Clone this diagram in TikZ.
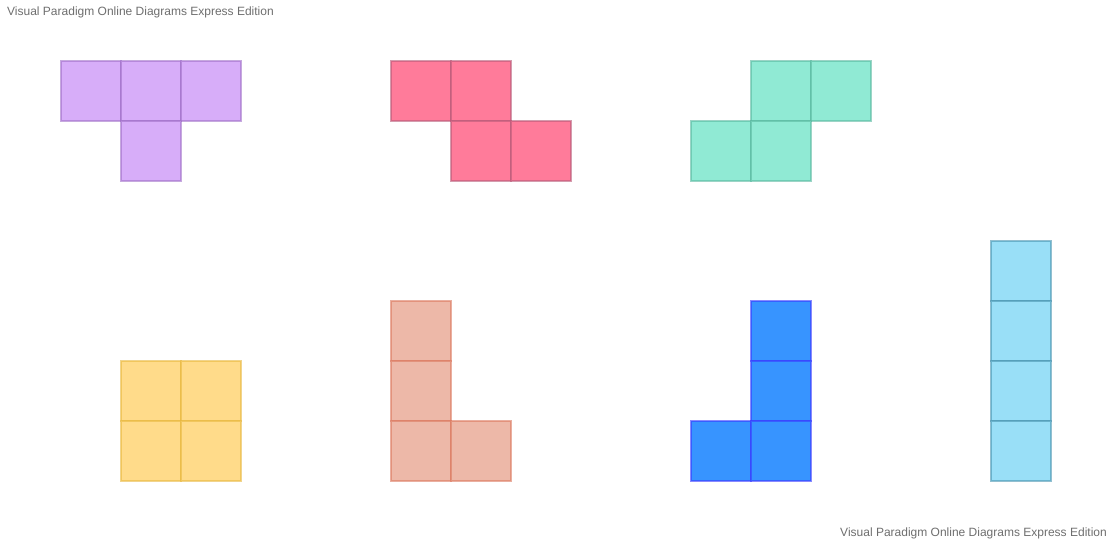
\documentclass[tikz,border=0pt]{standalone}
\usepackage{fontspec}
\setmainfont{Liberation Sans}
\definecolor{tfill}{HTML}{D7ADF9}\definecolor{tdraw}{HTML}{A070C8}
\definecolor{zfill}{HTML}{FF7B9A}\definecolor{zdraw}{HTML}{B85A78}
\definecolor{sfill}{HTML}{90EAD4}\definecolor{sdraw}{HTML}{5AB8A0}
\definecolor{ofill}{HTML}{FFDB8A}\definecolor{odraw}{HTML}{E8B840}
\definecolor{lfill}{HTML}{EDB8A8}\definecolor{ldraw}{HTML}{DC7A60}
\definecolor{jfill}{HTML}{3794FF}\definecolor{jdraw}{HTML}{3A3AFF}
\definecolor{ifill}{HTML}{99DFF7}\definecolor{idraw}{HTML}{4A94B0}
\definecolor{wm}{HTML}{6E6E6E}
\tikzset{
  sq/.style={rectangle, minimum size=60pt, inner sep=0pt, line width=1.6pt, draw opacity=0.6},
  wmark/.style={text=wm, font=\fontsize{12}{14}\selectfont, inner sep=0pt}
}
\begin{document}
\begin{tikzpicture}[x=1pt,y=-1pt]
\useasboundingbox (0,0) rectangle (1113,543);
\foreach \n/\x/\y/\c in {
  t1/61/61/t, t2/121/61/t, t3/181/61/t, t4/121/121/t,
  z1/391/61/z, z2/451/61/z, z3/451/121/z, z4/511/121/z,
  s1/751/61/s, s2/811/61/s, s3/691/121/s, s4/751/121/s,
  o1/121/361/o, o2/181/361/o, o3/121/421/o, o4/181/421/o,
  l1/391/301/l, l2/391/361/l, l3/391/421/l, l4/451/421/l,
  j1/751/301/j, j2/751/361/j, j3/691/421/j, j4/751/421/j,
  i1/991/241/i, i2/991/301/i, i3/991/361/i, i4/991/421/i}
  \node[sq, fill=\c fill, draw=\c draw] (\n) at (\x+30,\y+30) {};
\node[wmark, anchor=west] (wm1) at (7,12) {Visual Paradigm Online Diagrams Express Edition};
\node[wmark, anchor=east] (wm2) at (1107,533) {Visual Paradigm Online Diagrams Express Edition};
\end{tikzpicture}
\end{document}
